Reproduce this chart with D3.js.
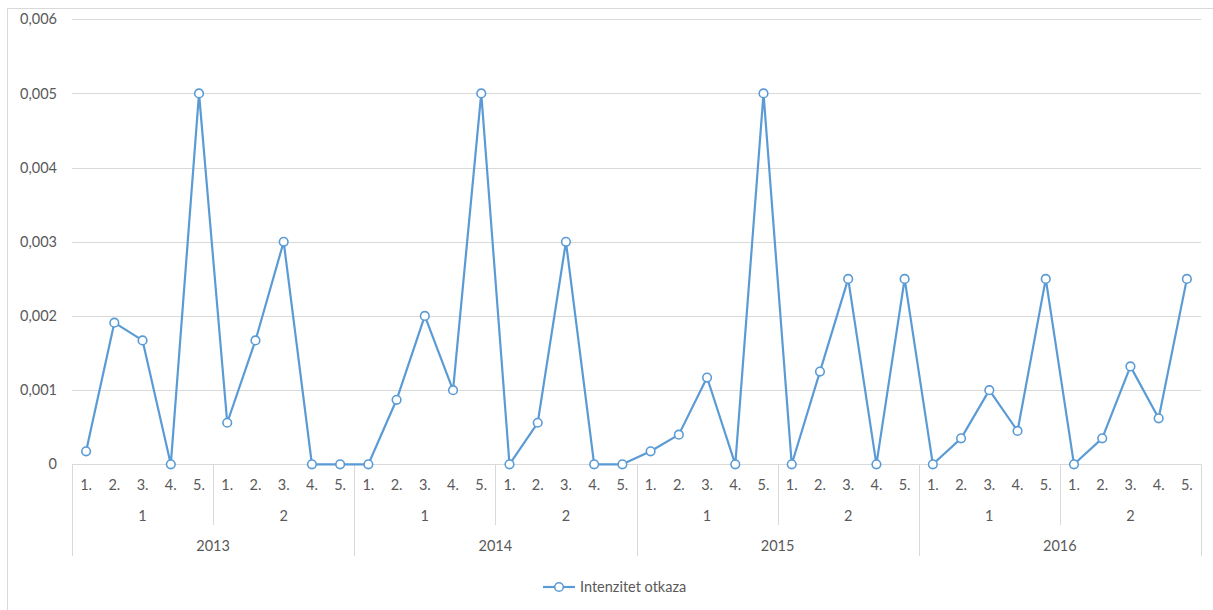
<!DOCTYPE html>
<html>
<head>
<meta charset="utf-8">
<script src="https://cdn.jsdelivr.net/npm/d3@7"></script>
<style>
  html, body { margin: 0; padding: 0; background: #fff; }
  svg { display: block; }
  text { font-family: Lato, "Open Sans", sans-serif; fill: #595959; }
</style>
</head>
<body>
<svg id="chart" width="1213" height="610"></svg>
<script>
const years = ["2013", "2014", "2015", "2016"];
const halves = ["1", "2"];
const items = ["1.", "2.", "3.", "4.", "5."];
const seriesName = "Intenzitet otkaza";
const values = [
  0.000175, 0.00191, 0.00167, 0, 0.005,
  0.00056, 0.00167, 0.003, 0, 0,
  0, 0.00087, 0.002, 0.001, 0.005,
  0, 0.00056, 0.003, 0, 0,
  0.000175, 0.0004, 0.00117, 0, 0.005,
  0, 0.00125, 0.0025, 0, 0.0025,
  0, 0.00035, 0.001, 0.00045, 0.0025,
  0, 0.00035, 0.00132, 0.00062, 0.0025
];
const yTicks = [0, 0.001, 0.002, 0.003, 0.004, 0.005, 0.006];

const color = "#5B9BD5";
const gridColor = "#d9d9d9";
const fontSize = "14.5px";

const svg = d3.select("#chart");

// chart frame
svg.append("rect").attr("x", 7.5).attr("y", 8.5).attr("width", 1220).attr("height", 620)
  .attr("fill", "none").attr("stroke", "#d9d9d9").attr("stroke-width", 1);

const pLeft = 72, pRight = 1201, pTop = 19.3, pBottom = 464.3;

const keys = [];
years.forEach(yy => halves.forEach(h => items.forEach(it => keys.push(yy + "|" + h + "|" + it))));
const data = keys.map((k, i) => ({ key: k, value: values[i] }));

const x = d3.scaleBand().domain(keys).range([pLeft, pRight]).padding(0);
const y = d3.scaleLinear().domain([0, 0.006]).range([pBottom, pTop]);

const loc = d3.formatLocale({ decimal: ",", thousands: ".", grouping: [3], currency: ["", ""] });
const fmt = loc.format(".3f");

// gridlines
svg.append("g").selectAll("line").data(yTicks).join("line")
  .attr("x1", pLeft).attr("x2", pRight)
  .attr("y1", d => Math.round(y(d)) + 0.5).attr("y2", d => Math.round(y(d)) + 0.5)
  .attr("stroke", gridColor).attr("stroke-width", 1);

// y labels
svg.append("g").selectAll("text").data(yTicks).join("text")
  .attr("x", 57).attr("y", d => y(d)).attr("dy", "0.35em")
  .attr("text-anchor", "end").style("font-size", fontSize)
  .text(d => d === 0 ? "0" : fmt(d));

// category axis
const ax = svg.append("g");
const bw = x.bandwidth();
ax.selectAll("text.item").data(keys).join("text").attr("class", "item")
  .attr("x", d => x(d) + bw / 2).attr("y", 485).attr("dy", "0.35em")
  .attr("text-anchor", "middle").style("font-size", fontSize)
  .text(d => d.split("|")[2]);
const halfKeys = [];
years.forEach(yy => halves.forEach(h => halfKeys.push({ y: yy, h })));
ax.selectAll("text.half").data(halfKeys).join("text").attr("class", "half")
  .attr("x", d => (x(d.y + "|" + d.h + "|" + items[0]) + x(d.y + "|" + d.h + "|" + items[items.length - 1]) + bw) / 2)
  .attr("y", 516).attr("dy", "0.35em").attr("text-anchor", "middle").style("font-size", fontSize)
  .text(d => d.h);
ax.selectAll("text.year").data(years).join("text").attr("class", "year")
  .attr("x", d => (x(d + "|" + halves[0] + "|" + items[0]) + x(d + "|" + halves[halves.length - 1] + "|" + items[items.length - 1]) + bw) / 2)
  .attr("y", 546).attr("dy", "0.35em").attr("text-anchor", "middle").style("font-size", fontSize)
  .text(d => d);
const halfSeps = halfKeys.filter(d => d.h !== halves[0]).map(d => x(d.y + "|" + d.h + "|" + items[0]));
ax.selectAll("line.hs").data(halfSeps).join("line").attr("class", "hs")
  .attr("x1", d => Math.round(d) + 0.5).attr("x2", d => Math.round(d) + 0.5)
  .attr("y1", pBottom).attr("y2", 525).attr("stroke", gridColor);
const yearSeps = years.map(d => x(d + "|" + halves[0] + "|" + items[0])).concat([pRight]);
ax.selectAll("line.ys").data(yearSeps).join("line").attr("class", "ys")
  .attr("x1", d => Math.round(d) + 0.5).attr("x2", d => Math.round(d) + 0.5)
  .attr("y1", pBottom).attr("y2", 556).attr("stroke", gridColor);

// line
const line = d3.line().x(d => x(d.key) + bw / 2).y(d => y(d.value));
svg.append("path").datum(data).attr("d", line)
  .attr("fill", "none").attr("stroke", color).attr("stroke-width", 2.2).attr("stroke-linejoin", "round");
svg.append("g").selectAll("circle").data(data).join("circle")
  .attr("cx", d => x(d.key) + bw / 2).attr("cy", d => y(d.value)).attr("r", 4.3)
  .attr("fill", "#fff").attr("stroke", color).attr("stroke-width", 1.6);

// legend
const lg = svg.append("g");
lg.append("line").attr("x1", 543).attr("x2", 575).attr("y1", 587).attr("y2", 587)
  .attr("stroke", color).attr("stroke-width", 2.2);
lg.append("circle").attr("cx", 559).attr("cy", 587).attr("r", 4.3)
  .attr("fill", "#fff").attr("stroke", color).attr("stroke-width", 1.6);
lg.append("text").attr("x", 580).attr("y", 587).attr("dy", "0.35em").style("font-size", fontSize)
  .text(seriesName);
</script>
</body>
</html>
